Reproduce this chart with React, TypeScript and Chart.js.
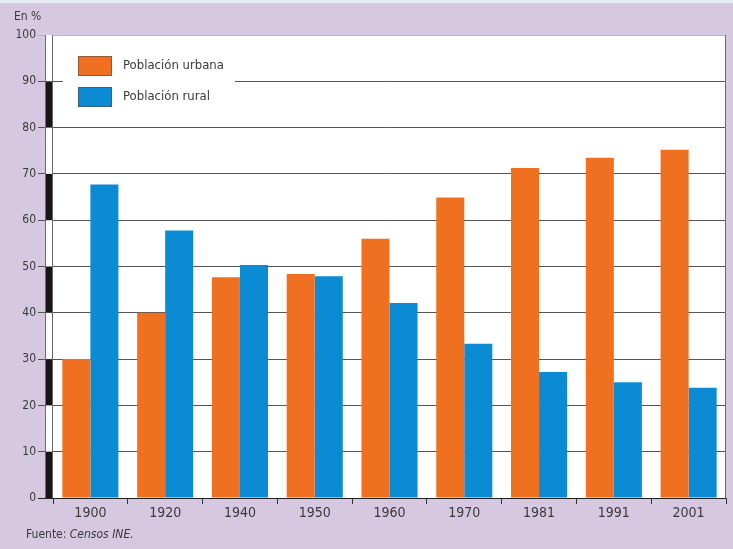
import React, { useEffect, useRef } from "react";
import { Chart, registerables } from "chart.js";

Chart.register(...registerables);

const categories = ["1900", "1920", "1940", "1950", "1960", "1970", "1981", "1991", "2001"];
const urbana = [30, 40, 47.7, 48.4, 56, 64.9, 71.3, 73.5, 75.2];
const rural = [67.7, 57.8, 50.3, 47.9, 42.1, 33.3, 27.2, 25, 23.8];
const yTicks = [0, 10, 20, 30, 40, 50, 60, 70, 80, 90, 100];
const seriesNames = ["Población urbana", "Población rural"];

const ORANGE = "#f07022";
const BLUE = "#0a8bd3";
const LAVENDER = "#d6c8e0";
const FONT = "'DejaVu Sans Condensed', 'DejaVu Sans', sans-serif";

const plotPlugin = {
  id: "plotDecor",
  beforeDraw(chart: any) {
    const { ctx, chartArea } = chart;
    ctx.save();
    ctx.fillStyle = "#ffffff";
    ctx.fillRect(chartArea.left, chartArea.top, chartArea.right - chartArea.left, chartArea.bottom - chartArea.top);
    ctx.restore();
  },
  afterDatasetsDraw(chart: any) {
    const { ctx, chartArea } = chart;
    const y = chart.scales.y;
    ctx.save();
    // alternating strip
    const sx = chartArea.left - 7;
    const sw = 6;
    ctx.fillStyle = "#ffffff";
    ctx.fillRect(sx, chartArea.top, sw, chartArea.bottom - chartArea.top);
    for (let i = 0; i < yTicks.length - 1; i++) {
      if (i % 2 === 0) {
        const y0 = y.getPixelForValue(yTicks[i]);
        const y1 = y.getPixelForValue(yTicks[i + 1]);
        ctx.fillStyle = "#1a1416";
        ctx.fillRect(sx, y1, sw, y0 - y1);
      }
    }
    ctx.strokeStyle = "#6a6a6a";
    ctx.lineWidth = 1;
    ctx.beginPath();
    ctx.moveTo(sx - 0.5, chartArea.top);
    ctx.lineTo(sx - 0.5, chartArea.bottom);
    ctx.moveTo(chartArea.left - 0.5, chartArea.top);
    ctx.lineTo(chartArea.left - 0.5, chartArea.bottom);
    ctx.moveTo(chartArea.right - 0.5, chartArea.top);
    ctx.lineTo(chartArea.right - 0.5, chartArea.bottom);
    ctx.stroke();
    // x axis line
    ctx.strokeStyle = "#222";
    ctx.lineWidth = 1.2;
    ctx.beginPath();
    ctx.moveTo(chartArea.left - 15, chartArea.bottom + 0.5);
    ctx.lineTo(chartArea.right, chartArea.bottom + 0.5);
    ctx.stroke();

    // legend
    const lx = chartArea.left + 10;
    const ly = chartArea.top + 6;
    ctx.fillStyle = "#ffffff";
    ctx.fillRect(lx, ly, 172, 80);
    const colors = [ORANGE, BLUE];
    ctx.font = `13px ${FONT}`;
    ctx.textBaseline = "middle";
    ctx.textAlign = "left";
    chart.data.datasets.forEach((ds: any, i: number) => {
      const top = chartArea.top + 21 + i * 31;
      ctx.fillStyle = colors[i];
      ctx.fillRect(chartArea.left + 25, top, 34, 20);
      ctx.strokeStyle = "rgba(90,70,70,0.6)";
      ctx.lineWidth = 1;
      ctx.strokeRect(chartArea.left + 25.5, top + 0.5, 33, 19);
      ctx.fillStyle = "#3a3a3a";
      ctx.fillText(ds.label, chartArea.left + 70, top + 10);
    });
    ctx.restore();
  },
};

export default function App() {
  const ref = useRef<HTMLCanvasElement | null>(null);
  useEffect(() => {
    document.body.style.margin = "0";
    const chart = new Chart(ref.current as HTMLCanvasElement, {
      type: "bar",
      data: {
        labels: categories,
        datasets: [
          { label: seriesNames[0], data: urbana, backgroundColor: ORANGE, borderWidth: 0 },
          { label: seriesNames[1], data: rural, backgroundColor: BLUE, borderWidth: 0 },
        ],
      },
      options: {
        animation: false,
        responsive: false,
        devicePixelRatio: 1,
        layout: { padding: { top: 32, right: 7, left: 0, bottom: 0 } },
        plugins: { legend: { display: false }, tooltip: { enabled: false } },
        datasets: { bar: { categoryPercentage: 0.75, barPercentage: 1 } },
        scales: {
          x: {
            grid: {
              display: true,
              offset: true,
              drawOnChartArea: false,
              drawTicks: true,
              tickLength: 6,
              color: "#333",
              lineWidth: 1,
            },
            border: { display: false },
            ticks: { color: "#3a3a3a", font: { family: FONT, size: 14 }, padding: 1 },
            afterFit(scale: any) {
              scale.height = 51;
            },
          },
          y: {
            min: 0,
            max: 100,
            afterBuildTicks(scale: any) {
              scale.ticks = yTicks.map((v) => ({ value: v }));
            },
            grid: {
              color: (c: any) => (c.tick && c.tick.value === 100 ? "#bbbbbb" : "#555555"),
              lineWidth: 1,
              tickLength: 15,
              drawTicks: true,
            },
            border: { display: false },
            ticks: { color: "#3a3a3a", font: { family: FONT, size: 12 }, padding: 2 },
            afterFit(scale: any) {
              scale.width = 53;
            },
          },
        },
      },
      plugins: [plotPlugin],
    });
    return () => chart.destroy();
  }, []);

  return (
    <div
      style={{
        position: "relative",
        width: 733,
        height: 549,
        background: LAVENDER,
        boxSizing: "border-box",
        borderTop: "3px solid #e6ecf2",
        overflow: "hidden",
        fontFamily: FONT,
      }}
    >
      <canvas ref={ref} width={733} height={546} style={{ position: "absolute", left: 0, top: 0 }} />
      <div style={{ position: "absolute", left: 14, top: 6, fontSize: 12, color: "#3a3a3a" }}>En %</div>
      <div style={{ position: "absolute", left: 26, top: 524, fontSize: 12, color: "#3a3a3a" }}>
        Fuente: <i>Censos INE.</i>
      </div>
    </div>
  );
}
